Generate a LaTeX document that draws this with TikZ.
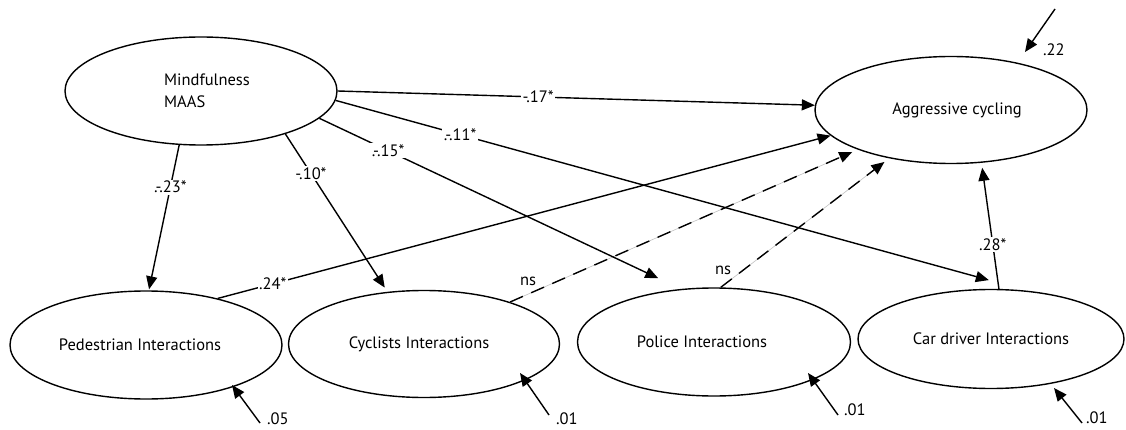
\documentclass[tikz,border=0pt]{standalone}
\usepackage{fontspec}
\setmainfont{PT Sans}
\usetikzlibrary{arrows.meta,shapes.geometric,calc}
\tikzset{
  var/.style={ellipse,draw,line width=1.4pt,inner sep=0pt,font=\fontsize{16.5}{22}\selectfont},
  path/.style={line width=1.4pt,-{Triangle[length=13pt,width=11pt]}},
  nspath/.style={line width=1.4pt,dash pattern=on 14pt off 9pt,-{Triangle[length=13pt,width=11pt]}},
  graybase/.style={line width=0.6pt,draw=black!25},
  lab/.style={fill=white,inner sep=1.5pt,font=\fontsize{16.5}{20}\selectfont},
  plainlab/.style={inner sep=1pt,font=\fontsize{16.5}{20}\selectfont},
  res/.style={line width=1.4pt,-{Triangle[length=13pt,width=11pt]}}
}
\begin{document}
\begin{tikzpicture}[x=1pt,y=-1pt]
\useasboundingbox (0,0) rectangle (1126,430);
\node[var,minimum width=272pt,minimum height=108pt,align=left] (mind) at (201,91) {\hspace*{12pt}Mindfulness\\\hspace*{12pt}MAAS};
\node[var,minimum width=272pt,minimum height=107pt] (agg) at (951,110) {\hspace*{12pt}Aggressive cycling};
\node[var,minimum width=272pt,minimum height=108pt] (ped) at (146,345) {Pedestrian Interactions\hspace*{12pt}};
\node[var,minimum width=271pt,minimum height=107pt] (cyc) at (424,344) {Cyclists Interactions\hspace*{10pt}};
\node[var,minimum width=273pt,minimum height=108pt] (pol) at (714,342) {Police Interactions\hspace*{24pt}};
\node[var,minimum width=266pt,minimum height=99pt] (car) at (991,339) {Car driver Interactions};

% dashed non-significant paths
\draw[graybase,shorten >=6pt] (cyc.26) -- (agg.-157);
\draw[nspath,shorten >=6pt] (cyc.26) -- (agg.-157);
\draw[graybase,shorten >=6pt] (pol.83) -- (agg.-142);
\draw[nspath,shorten >=6pt] (pol.83) -- (agg.-142);
\node[plainlab] (ns1) at (528,281) {ns};
\node[plainlab] (ns2) at (723,270) {ns};

% significant paths
\draw[path] (mind.0) -- node[lab,pos=0.42] {-.17*} (agg.178.5);
\draw[path,shorten >=40pt] (mind.-4.8) -- node[lab,pos=0.18] {.-.11*} (car.53.1);
\draw[path,shorten >=25pt] (mind.-13.2) -- node[lab,pos=0.19] {.-.15*} (pol.122.4);
\draw[path,shorten >=5pt] (mind.-27.3) -- node[lab,pos=0.25] {-.10*} (cyc.125.4);
\draw[path,shorten >=1pt] (mind.-112.2) -- node[lab,pos=0.29] {.-.23*} (ped.87.9);
\draw[path] (ped.33.5) -- node[lab,pos=0.09] {.24*} (agg.-168.8);
\draw[path,shorten >=5pt] (car.81) -- node[lab,pos=0.35] {.28*} (agg.-60.4);

% residuals
\coordinate (eAggT) at (1055,9);   \coordinate (eAggH) at (1025,52);
\coordinate (ePedT) at (260,423);  \coordinate (ePedH) at (232,385);
\coordinate (eCycT) at (549,415);  \coordinate (eCycH) at (520,373);
\coordinate (ePolT) at (838,415);  \coordinate (ePolH) at (808,373);
\coordinate (eCarT) at (1082,423); \coordinate (eCarH) at (1054,388);
\draw[res] (eAggT) -- (eAggH);
\draw[res] (ePedT) -- (ePedH);
\draw[res] (eCycT) -- (eCycH);
\draw[res] (ePolT) -- (ePolH);
\draw[res] (eCarT) -- (eCarH);
\node[plainlab,anchor=west] (rAgg) at (1042,50) {.22};
\node[plainlab,anchor=west] (rPed) at (266,419) {.05};
\node[plainlab,anchor=west] (rCyc) at (555,419) {.01};
\node[plainlab,anchor=west] (rPol) at (843,410) {.01};
\node[plainlab,anchor=west] (rCar) at (1085,418) {.01};
\end{tikzpicture}
\end{document}
